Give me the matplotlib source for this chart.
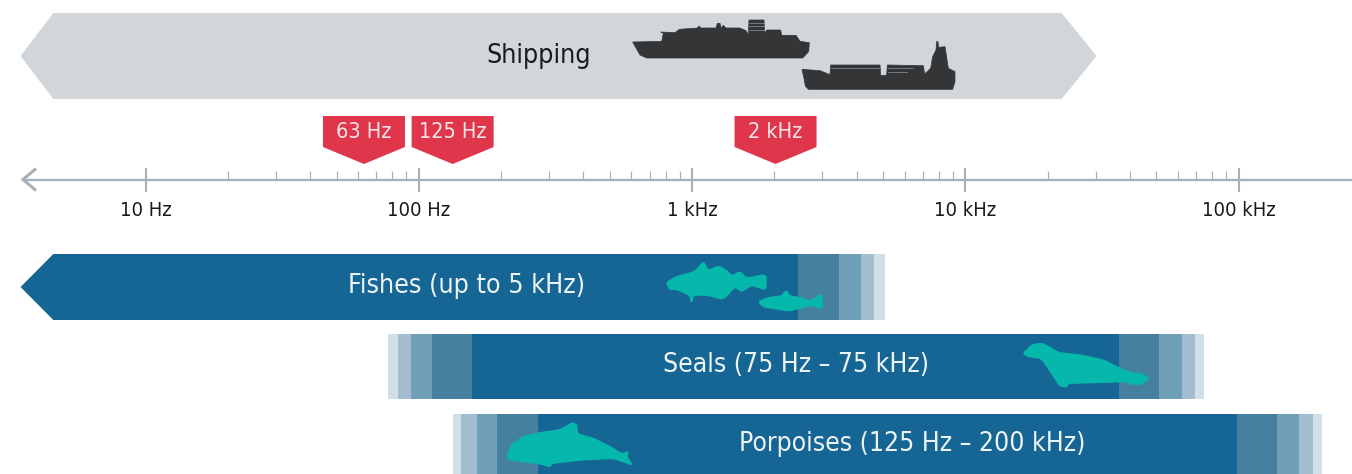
import numpy as np
import matplotlib
matplotlib.use("Agg")
import matplotlib.pyplot as plt
from matplotlib.patches import Polygon, Rectangle
from matplotlib.ticker import NullFormatter

W, H = 1352, 474
# log-axis calibration: pixel of 10 Hz, pixels per decade
PX10, PXDEC = 145.5, 273.3

# ---- data ----
tick_freqs = [10, 100, 1000, 10000, 100000]
tick_labels = ["10 Hz", "100 Hz", "1 kHz", "10 kHz", "100 kHz"]
minor_freqs = [m * d for d in (10, 100, 1000, 10000) for m in range(2, 10)]

ship_range = (4.6, 3.49, 22500, 30200)   # left shoulder, left tip, right shoulder, right tip
ship_label = "Shipping"

flag_freqs = [63, 133, 2020]
flag_labels = ["63 Hz", "125 Hz", "2 kHz"]

fish_label = "Fishes (up to 5 kHz)"
fish_tip, fish_shoulder = 3.49, 4.6
fish_right = [2450, 3440, 4140, 4620, 5060]

seal_label = "Seals (75 Hz – 75 kHz)"
seal_left = [77, 84, 94, 112, 157]
seal_right = [36400, 50900, 61800, 69000, 74500]

porp_label = "Porpoises (125 Hz – 200 kHz)"
porp_left = [133, 143, 163, 194, 272]
porp_right = [98400, 137700, 166000, 186600, 201000]

C_SHIP = "#d1d6db"
C_DARK = "#333536"
C_RED = "#e0364c"
C_AXIS = "#a6b2ba"
C_TEAL = "#06b8ab"
BLUES = ["#156694", "#45819f", "#709fb8", "#a2bdcf", "#d1dfe7"]
C_TEXT = "#1a1a1a"
FONT_KW = dict(family=["DejaVu Sans"], stretch="condensed")

# silhouettes: zoomed-outline points (x, y in 3x crop pixels)
ship1 = [(38,126),(125,124),(130,100),(122,96),(165,98),(178,88),(232,84),(238,78),(242,84),(288,84),(292,70),(300,70),(303,84),(310,76),(318,84),(360,84),(378,92),(385,104),(387,60),(432,60),(434,100),(440,90),(482,90),(485,106),(528,106),(540,124),(568,128),(566,155),(548,174),(80,174),(60,165)]
ship2 = [(546,208),(600,212),(630,224),(632,195),(780,195),(782,226),(800,226),(802,195),(910,197),(914,222),(932,205),(938,170),(948,150),(950,125),(954,125),(956,142),(975,140),(985,205),(1005,215),(1005,245),(998,268),(565,268),(556,258),(552,235)]
ship_stripes = [((388,431),68),((388,431),78),((388,431),90),((634,778),205),((804,880),205),((804,860),216)]
fish1 = [(80,97),(110,80),(165,65),(190,35),(205,62),(235,48),(260,62),(275,78),(300,65),(320,85),(378,73),(378,120),(335,105),(305,125),(285,110),(250,148),(200,135),(160,135),(155,158),(148,135),(110,118),(88,118)]
fish2 = [(356,155),(385,143),(425,138),(438,122),(450,138),(490,145),(510,155),(545,132),(548,175),(510,165),(490,172),(445,183),(400,175),(370,170)]
seal = [(70,70),(95,45),(125,40),(150,52),(175,68),(240,75),(310,90),(360,115),(395,130),(420,130),(448,145),(420,163),(395,162),(380,155),(300,157),(205,160),(200,170),(180,168),(165,145),(125,85),(85,80)]
porpoise = [(382,375),(395,345),(430,320),(480,308),(540,300),(578,278),(590,285),(592,312),(640,325),(690,350),(725,372),(745,365),(740,380),(757,405),(730,395),(700,385),(640,388),(600,390),(515,400),(510,410),(485,402),(430,395),(385,388)]


def hz(px):
    return 10 ** (1 + (px - PX10) / PXDEC)


fig = plt.figure(figsize=(W / 100, H / 100), dpi=100, facecolor="white")
ax = fig.add_axes([0, 0, 1, 1])
ax.set_xscale("log")
ax.set_xlim(hz(0), hz(W))
ax.set_ylim(H, 0)
ax.patch.set_visible(False)
for s in ("top", "left", "right"):
    ax.spines[s].set_visible(False)
ax.yaxis.set_visible(False)

# axis
sp = ax.spines["bottom"]
sp.set_position(("data", 179.5))
sp.set_color(C_AXIS)
sp.set_linewidth(1.7)
sp.set_bounds(hz(23), hz(W))
ax.set_xticks(tick_freqs)
ax.set_xticklabels(tick_labels, fontsize=14.5, color=C_TEXT, **FONT_KW)
ax.set_xticks(minor_freqs, minor=True)
ax.xaxis.set_minor_formatter(NullFormatter())
ax.tick_params(axis="x", which="major", direction="inout", length=17.3, width=1.5,
               color=C_AXIS, pad=6.5)
ax.tick_params(axis="x", which="minor", direction="in", length=6.8, width=0.9,
               color=C_AXIS)
ax.plot([hz(36), hz(23), hz(36)], [168.5, 179.5, 190.5], color=C_AXIS, lw=2.2,
        solid_joinstyle="miter", solid_capstyle="butt", clip_on=False)

# shipping banner
ls, lt, rs, rt = ship_range
ax.add_patch(Polygon([(lt, 56), (ls, 13), (rs, 13), (rt, 56), (rs, 99), (ls, 99)],
                     closed=True, fc=C_SHIP, ec="none"))
ax.text(hz(539), 56, ship_label, ha="center", va="center", fontsize=19.2, color=C_TEXT, **FONT_KW)

# flags
for f, lab in zip(flag_freqs, flag_labels):
    a, b = f * 10 ** (-41 / PXDEC), f * 10 ** (41 / PXDEC)
    ax.add_patch(Polygon([(a, 116), (b, 116), (b, 147), (f, 164), (a, 147)],
                         closed=True, fc=C_RED, ec="none"))
    ax.text(f, 132, lab, ha="center", va="center", fontsize=15.5, color="#f6e6e8", **FONT_KW)


# range bars
def band(edges_left, edges_right, y0, y1):
    ax.add_patch(Rectangle((edges_left[-1], y0), edges_right[0] - edges_left[-1], y1 - y0,
                           fc=BLUES[0], ec="none"))
    n = len(BLUES)
    for i in range(1, n):
        ax.add_patch(Rectangle((edges_left[n - 1 - i], y0),
                               edges_left[n - i] - edges_left[n - 1 - i], y1 - y0,
                               fc=BLUES[i], ec="none"))
        ax.add_patch(Rectangle((edges_right[i - 1], y0), edges_right[i] - edges_right[i - 1],
                               y1 - y0, fc=BLUES[i], ec="none"))


# fishes
ax.add_patch(Polygon([(fish_tip, 287), (fish_shoulder, 254), (fish_right[0], 254),
                      (fish_right[0], 320), (fish_shoulder, 320)],
                     closed=True, fc=BLUES[0], ec="none"))
for i in range(1, 5):
    ax.add_patch(Rectangle((fish_right[i - 1], 254), fish_right[i] - fish_right[i - 1], 66,
                           fc=BLUES[i], ec="none"))
band(seal_left, seal_right, 334, 399)
band(porp_left, porp_right, 414, 476)

TXT = "#eef3f6"
ax.text(hz(467), 286, fish_label, ha="center", va="center", fontsize=19.3, color=TXT, **FONT_KW)
ax.text(hz(796), 365, seal_label, ha="center", va="center", fontsize=19, color=TXT, **FONT_KW)
ax.text(hz(912), 444, porp_label, ha="center", va="center", fontsize=19, color=TXT, **FONT_KW)

# silhouettes in pixel space
ov = fig.add_axes([0, 0, 1, 1])
ov.set_xlim(0, W)
ov.set_ylim(H, 0)
ov.axis("off")
ov.patch.set_visible(False)


def smooth(pts):
    nxt = np.roll(pts, -1, axis=0)
    return np.column_stack([0.85 * pts + 0.15 * nxt, 0.15 * pts + 0.85 * nxt]).reshape(-1, 2)


def sil(points, ox, oy, color, soft=False):
    pts = np.array(points, float) / 3 + [ox, oy]
    if soft:
        pts = smooth(pts)
    ov.add_patch(Polygon(pts, closed=True, fc=color, ec=color, lw=1.0 if soft else 0.5,
                         joinstyle="round"))


sil(ship1, 620, 0, C_DARK)
sil(ship2, 620, 0, C_DARK)
for (x0, x1), y in ship_stripes:
    ov.plot([x0 / 3 + 620, x1 / 3 + 620], [y / 3, y / 3], color=C_SHIP, lw=0.5, alpha=0.6)
sil(fish1, 640, 250, C_TEAL, True)
sil(fish2, 640, 250, C_TEAL, True)
sil(seal, 1000, 330, C_TEAL, True)
sil(porpoise, 380, 330, C_TEAL, True)

fig.savefig("out.png", dpi=100, facecolor="white")
